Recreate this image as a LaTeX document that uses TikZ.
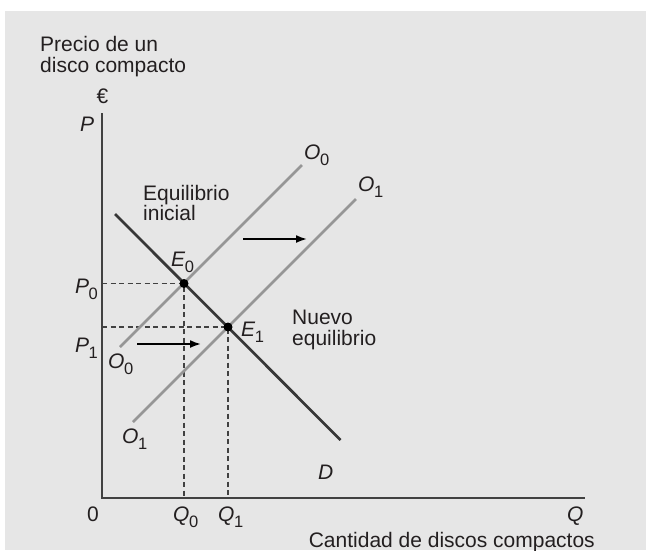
\documentclass[tikz,border=0pt]{standalone}
\usepackage{fontspec}
\setmainfont{Liberation Sans}
\usetikzlibrary{arrows.meta}
\definecolor{fondo}{RGB}{230,230,230}
\definecolor{ejes}{RGB}{65,65,65}
\definecolor{oferta}{RGB}{150,150,150}
\definecolor{demanda}{RGB}{55,55,55}
\definecolor{texto}{RGB}{35,31,32}
\newcommand{\sbi}[2]{\textit{#1}\kern-0.5pt\raisebox{-6pt}{\fontsize{16.5}{16.5}\selectfont #2}}

\begin{document}
\begin{tikzpicture}[x=1pt, y=-1pt, auto,
    every node/.style={text=texto, font=\fontsize{21}{20.5}\selectfont},
    lbl/.style={inner sep=0pt, anchor=base west},
    txt/.style={inner sep=0pt, anchor=north west, align=left},
    guia/.style={ejes, line width=1.8pt, dash pattern=on 5pt off 3.5pt},
    flecha/.style={draw=black, line width=1.8pt, -{Latex[length=11pt,width=8pt]}}]

    \useasboundingbox (0, 0) rectangle (646, 550);
    \fill[white] (0, 0) rectangle (646, 550);
    \fill[fondo] (5, 11) rectangle (646, 550);

    \coordinate (t) at (102, 113);
    \coordinate (o) at (102, 498);
    \coordinate (r) at (585, 498);
    \coordinate (d1) at (115, 214);
    \coordinate (d2) at (340.5, 440);
    \coordinate (a1) at (120, 347);
    \coordinate (a2) at (302, 165);
    \coordinate (b1) at (133, 422);
    \coordinate (b2) at (356, 199);
    \coordinate (e0) at (184, 283.5);
    \coordinate (e1) at (228, 327);
    \coordinate (p0) at (102, 283.5);
    \coordinate (p1) at (102, 327);
    \coordinate (q0) at (184, 498);
    \coordinate (q1) at (228, 498);
    \coordinate (f1) at (137, 344);
    \coordinate (g1) at (201, 344);
    \coordinate (f2) at (243, 239);
    \coordinate (g2) at (307, 239);

    \draw [ejes, line width=2pt] (t) -- (o) -- (r);
    \draw [guia] (p0) -- (e0) -- (q0);
    \draw [guia] (p1) -- (e1) -- (q1);
    \draw [oferta, line width=2.5pt] (a1) -- (a2);
    \draw [oferta, line width=2.5pt] (b1) -- (b2);
    \draw [demanda, line width=2.7pt] (d1) -- (d2);
    \fill [black] (e0) circle (4.5pt);
    \fill [black] (e1) circle (4.5pt);
    \draw [flecha] (f1) -- (g1);
    \draw [flecha] (f2) -- (g2);

    \node [txt] (h) at (40, 36.4) {Precio de un\\disco compacto};
    \node [inner sep=0pt, anchor=base] (i) at (102.5, 103) {€};
    \node [lbl] (j) at (80, 131.7) {\textit{P}};
    \node [txt] (k) at (143, 184.7) {Equilibrio\\inicial};
    \node [txt] (l) at (292, 310) {Nuevo\\equilibrio};
    \node [lbl] (m) at (304, 159) {\sbi{O}{0}};
    \node [lbl] (n) at (358, 191) {\sbi{O}{1}};
    \node [lbl] (u) at (108, 368) {\sbi{O}{0}};
    \node [lbl] (v) at (122, 443) {\sbi{O}{1}};
    \node [lbl] (w) at (171, 266) {\sbi{E}{0}};
    \node [lbl] (x) at (241, 336) {\sbi{E}{1}};
    \node [lbl] (y) at (75, 293) {\sbi{P}{0}};
    \node [lbl] (z) at (75, 352) {\sbi{P}{1}};
    \node [lbl] (ct) at (318, 479) {\textit{D}};
    \node [lbl] (c0) at (87, 521) {0};
    \node [lbl] (cq0) at (173, 521) {\sbi{Q}{0}};
    \node [lbl] (cq1) at (218, 521) {\sbi{Q}{1}};
    \node [lbl] (cq) at (567, 521) {\textit{Q}};
    \node [inner sep=0pt, anchor=base east] (cc) at (595, 547) {Cantidad de discos compactos};

  \end{tikzpicture}
\end{document}
